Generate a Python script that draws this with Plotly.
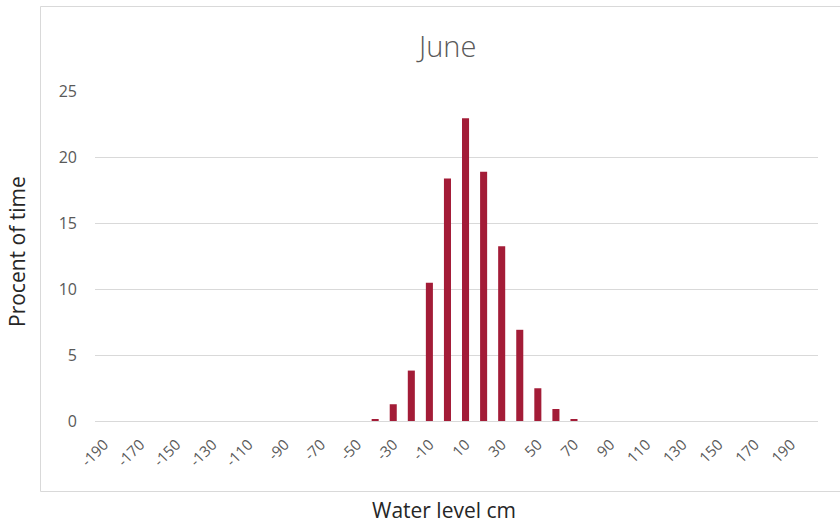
import plotly.graph_objects as go

categories = [str(v) for v in range(-190, 210, 10)]
values_map = {"-40": 0.1, "-30": 1.27, "-20": 3.82, "-10": 10.48, "0": 18.38, "10": 22.93,
              "20": 18.88, "30": 13.24, "40": 6.91, "50": 2.48, "60": 0.91, "70": 0.15}
values = [values_map.get(c, 0) for c in categories]
tick_labels = [str(v) for v in range(-190, 200, 20)]
y_ticks = [0, 5, 10, 15, 20, 25]

PX0, PX1, PY0, PY1 = 95, 818, 91, 421
W, H = 840, 524

def px(x):
    return (x - PX0) / (PX1 - PX0)

def py(y):
    return (PY1 - y) / (PY1 - PY0)

fig = go.Figure(go.Bar(x=categories, y=values, marker=dict(color="#A31C37", line=dict(width=0)),
                       hoverinfo="x+y"))

fig.update_layout(
    width=W, height=H,
    margin=dict(l=PX0, r=W - PX1, t=PY0, b=H - PY1, autoexpand=False),
    paper_bgcolor="white", plot_bgcolor="white",
    bargap=0.61,
    showlegend=False,
    font=dict(family="Open Sans", color="#595959", size=15),
    xaxis=dict(type="category", categoryorder="array", categoryarray=categories,
               tickmode="array", tickvals=tick_labels, ticktext=tick_labels,
               tickangle=-45, showgrid=False, showline=False, ticks="",
               ticklabelstandoff=11,
               tickfont=dict(size=15, color="#595959"), zeroline=False),
    yaxis=dict(range=[0, 25], tickvals=y_ticks, showgrid=True, gridcolor="#D9D9D9",
               gridwidth=1, zeroline=True, zerolinecolor="#D9D9D9", zerolinewidth=1,
               showline=False, ticks="", ticklabelstandoff=17,
               tickfont=dict(size=16, color="#595959")),
    annotations=[
        dict(text="June", x=px(446), y=py(46), xref="paper", yref="paper",
             showarrow=False, xanchor="center", yanchor="middle",
             font=dict(size=29, color="#595959", family="Open Sans", weight=300)),
        dict(text="Water level cm", x=px(444), y=py(510), xref="paper", yref="paper",
             showarrow=False, xanchor="center", yanchor="middle",
             font=dict(size=21, color="#262626", family="Open Sans")),
        dict(text="Procent of time", x=px(17), y=py(252), xref="paper", yref="paper",
             showarrow=False, xanchor="center", yanchor="middle", textangle=-90,
             font=dict(size=21, color="#262626", family="Open Sans")),
    ],
    shapes=[
        dict(type="rect", xref="paper", yref="paper", x0=px(40.5), x1=px(860), y0=py(491.5), y1=py(6.5),
             line=dict(color="#D9D9D9", width=1), fillcolor="rgba(0,0,0,0)", layer="below"),
    ],
)

fig.write_html("out.html", config={"displayModeBar": False},
               post_script="document.body.style.margin='0';document.body.style.overflow='hidden';")
